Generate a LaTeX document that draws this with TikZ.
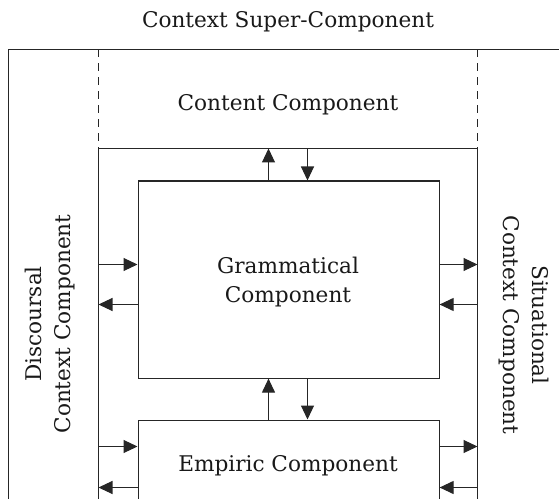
\documentclass[tikz,border=0pt]{standalone}
\usepackage{fontspec}
\setmainfont{DejaVu Serif}
\usetikzlibrary{arrows.meta}
\begin{document}
\begin{tikzpicture}[x=1bp,y=-1bp,
  line/.style={draw=black!85, line width=1.1bp},
  arr/.style={line, -{Triangle[length=14bp,width=13bp]}},
  box/.style={line, rectangle, inner sep=0pt, anchor=north west},
  lbl/.style={font=\fontsize{21.7}{30}\selectfont, align=center, inner sep=0pt, text=black!90}]
\useasboundingbox (0,0) rectangle (559,499);
\clip (0,0) rectangle (559,499);
% outer frame
\draw[line] (8.5,520) -- (8.5,49.5) -- (580,49.5);
% dashed part of the inner frame
\draw[line, dash pattern=on 8bp off 6bp] (98.5,49.5) -- (98.5,148.5);
\draw[line, dash pattern=on 8bp off 6bp] (477.5,49.5) -- (477.5,148.5);
\coordinate (tl) at (98.5,148.5);
\coordinate (tr) at (477.5,148.5);
\draw[line] (98.5,520) -- (tl) -- (tr) -- (477.5,520);
% labels
\node[lbl] (title) at (288,22) {Context Super-Component};
\node[lbl] (content) at (288,105) {Content Component};
% boxes
\node[box, minimum width=301bp, minimum height=197bp] (gram) at (137.5,180.5) {};
\node[lbl] (gramtxt) at (288,282) {Grammatical\\Component};
\node[box, minimum width=301bp, minimum height=120bp] (emp) at (137.5,419.5) {};
\node[lbl] (emptxt) at (288,466) {Empiric Component};
% side labels
\node[lbl, rotate=90] (disc) at (50,324) {Discoursal\\Context Component};
\node[lbl, rotate=-90] (sit) at (524,325) {Situational\\Context Component};
% arrow columns
\coordinate (ux) at (268.5,0);
\coordinate (dx) at (307.5,0);
\coordinate (rA) at (0,264.5);
\coordinate (lA) at (0,304.5);
\coordinate (rB) at (0,446.5);
\coordinate (lB) at (0,487.5);
% content <-> grammatical
\draw[arr] (gram.north -| ux) -- (tl -| ux);
\draw[arr] (tl -| dx) -- (gram.north -| dx);
% grammatical <-> empiric
\draw[arr] (emp.north -| ux) -- (gram.south -| ux);
\draw[arr] (gram.south -| dx) -- (emp.north -| dx);
% left side
\draw[arr] (tl |- rA) -- (gram.west |- rA);
\draw[arr] (gram.west |- lA) -- (tl |- lA);
\draw[arr] (tl |- rB) -- (emp.west |- rB);
\draw[arr] (emp.west |- lB) -- (tl |- lB);
% right side
\draw[arr] (gram.east |- rA) -- (tr |- rA);
\draw[arr] (tr |- lA) -- (gram.east |- lA);
\draw[arr] (emp.east |- rB) -- (tr |- rB);
\draw[arr] (tr |- lB) -- (emp.east |- lB);
\end{tikzpicture}
\end{document}
